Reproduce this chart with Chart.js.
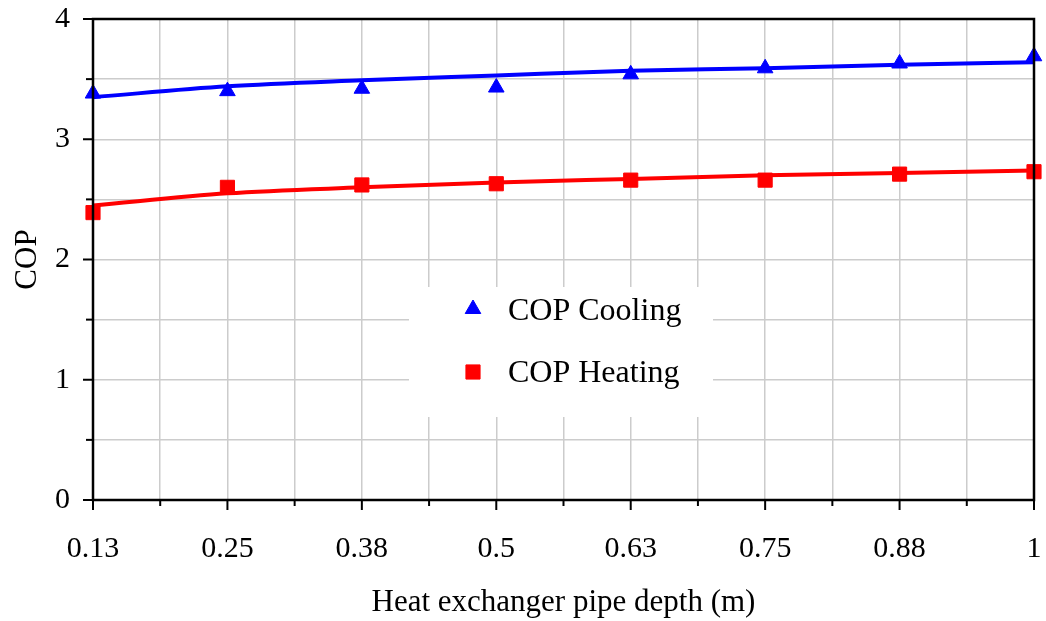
<!DOCTYPE html>
<html>
<head>
<meta charset="utf-8">
<script src="https://cdn.jsdelivr.net/npm/chart.js@4/dist/chart.umd.min.js"></script>
<style>
  html, body { margin: 0; padding: 0; background: #fff; }
  #wrap { width: 1046px; height: 621px; }
</style>
</head>
<body>
<div id="wrap"><canvas id="cop"></canvas></div>
<script>
// pipe depths (m) and the labels printed under them
var depths = [0.125, 0.25, 0.375, 0.5, 0.625, 0.75, 0.875, 1];
var depthLabels = ["0.13", "0.25", "0.38", "0.5", "0.63", "0.75", "0.88", "1"];
var yTickLabels = ["0", "1", "2", "3", "4"];

// measured COP
var copCooling = [3.38, 3.40, 3.42, 3.43, 3.54, 3.59, 3.63, 3.69];
var copHeating = [2.39, 2.60, 2.62, 2.63, 2.66, 2.66, 2.71, 2.73];

// trend lines
var trendCooling = [3.35, 3.44, 3.49, 3.53, 3.57, 3.59, 3.62, 3.64];
var trendHeating = [2.45, 2.55, 2.60, 2.64, 2.67, 2.70, 2.72, 2.74];

var serif = "'Liberation Serif', 'Times New Roman', serif";

function pts(vals) {
  return vals.map(function (v, i) { return { x: depths[i], y: v }; });
}

// legend box sitting inside the plot
var boxLegend = {
  id: 'boxLegend',
  beforeDatasetsDraw: function (chart) {
    var ctx = chart.ctx;
    ctx.save();
    ctx.fillStyle = '#fff';
    ctx.fillRect(409, 287, 304, 130);
    var items = [chart.data.datasets[2], chart.data.datasets[3]];
    var rows = [{ my: 309, ty: 320 }, { my: 372, ty: 382 }];
    items.forEach(function (ds, i) {
      ctx.fillStyle = ds.pointBackgroundColor;
      ctx.strokeStyle = ds.pointBorderColor;
      ctx.lineWidth = 1;
      Chart.helpers.drawPoint(ctx, { pointStyle: ds.pointStyle, radius: ds.pointRadius, borderWidth: 1 }, 473, rows[i].my);
      ctx.fillStyle = '#000';
      ctx.font = '32px ' + serif;
      ctx.textBaseline = 'alphabetic';
      ctx.textAlign = 'left';
      ctx.fillText(ds.label, 508, rows[i].ty);
    });
    ctx.restore();
  }
};

// frame + outside tick marks (long on labelled ticks, short in between)
var frameTicks = {
  id: 'frameTicks',
  afterDraw: function (chart) {
    var ctx = chart.ctx, a = chart.chartArea;
    var sx = chart.scales.x, sy = chart.scales.y;
    ctx.save();
    ctx.strokeStyle = '#000';
    ctx.lineWidth = 2.5;
    ctx.strokeRect(a.left, a.top, a.right - a.left, a.bottom - a.top);
    ctx.lineWidth = 2;
    sx.ticks.forEach(function (t, i) {
      var px = sx.getPixelForValue(t.value);
      ctx.beginPath();
      ctx.moveTo(px, a.bottom);
      ctx.lineTo(px, a.bottom + (i % 2 ? 6 : 10));
      ctx.stroke();
    });
    sy.ticks.forEach(function (t, i) {
      var py = sy.getPixelForValue(t.value);
      ctx.beginPath();
      ctx.moveTo(a.left, py);
      ctx.lineTo(a.left - (i % 2 ? 7 : 10), py);
      ctx.stroke();
    });
    ctx.restore();
  }
};

new Chart(document.getElementById('cop').getContext('2d'), {
  type: 'line',
  data: {
    datasets: [
      { label: 'trend cooling', data: pts(trendCooling), borderColor: '#0000ff', borderWidth: 4,
        pointRadius: 0, fill: false, cubicInterpolationMode: 'monotone', clip: false },
      { label: 'trend heating', data: pts(trendHeating), borderColor: '#ff0000', borderWidth: 4,
        pointRadius: 0, fill: false, cubicInterpolationMode: 'monotone', clip: false },
      { label: 'COP Cooling', data: pts(copCooling), showLine: false, pointStyle: 'triangle', clip: false,
        pointRadius: 9, pointBackgroundColor: '#0000ff', pointBorderColor: '#0000ff', pointBorderWidth: 1 },
      { label: 'COP Heating', data: pts(copHeating), showLine: false, pointStyle: 'rect', clip: false,
        pointRadius: 10, pointBackgroundColor: '#ff0000', pointBorderColor: '#ff0000', pointBorderWidth: 1 }
    ]
  },
  options: {
    responsive: true,
    maintainAspectRatio: false,
    animation: false,
    events: [],
    layout: { padding: { top: 19, right: 12, left: 0, bottom: 0 } },
    plugins: { legend: { display: false }, tooltip: { enabled: false } },
    scales: {
      x: {
        type: 'linear',
        min: 0.125, max: 1,
        afterFit: function (s) { s.height = 121; s.paddingLeft = 0; s.paddingRight = 0; },
        grid: { color: '#cccccc', lineWidth: 1.5, drawTicks: false },
        border: { display: false },
        ticks: {
          stepSize: 0.0625, autoSkip: false, maxRotation: 0, padding: 31,
          color: '#000', font: { family: serif, size: 30 },
          callback: function (v, i) { return i % 2 ? '' : depthLabels[i / 2]; }
        },
        title: { display: true, text: 'Heat exchanger pipe depth (m)', color: '#000',
          font: { family: serif, size: 31 }, padding: { top: 0, bottom: 0 } }
      },
      y: {
        min: 0, max: 4,
        afterFit: function (s) { s.width = 93; s.paddingTop = 0; s.paddingBottom = 0; },
        grid: { color: '#cccccc', lineWidth: 1.5, drawTicks: false },
        border: { display: false },
        ticks: {
          stepSize: 0.5, padding: 23,
          color: '#000', font: { family: serif, size: 30 },
          callback: function (v, i) { return i % 2 ? '' : yTickLabels[i / 2]; }
        },
        title: { display: true, text: 'COP', color: '#000',
          font: { family: serif, size: 31 }, padding: { top: 9, bottom: 0 } }
      }
    }
  },
  plugins: [boxLegend, frameTicks]
});
</script>
</body>
</html>
